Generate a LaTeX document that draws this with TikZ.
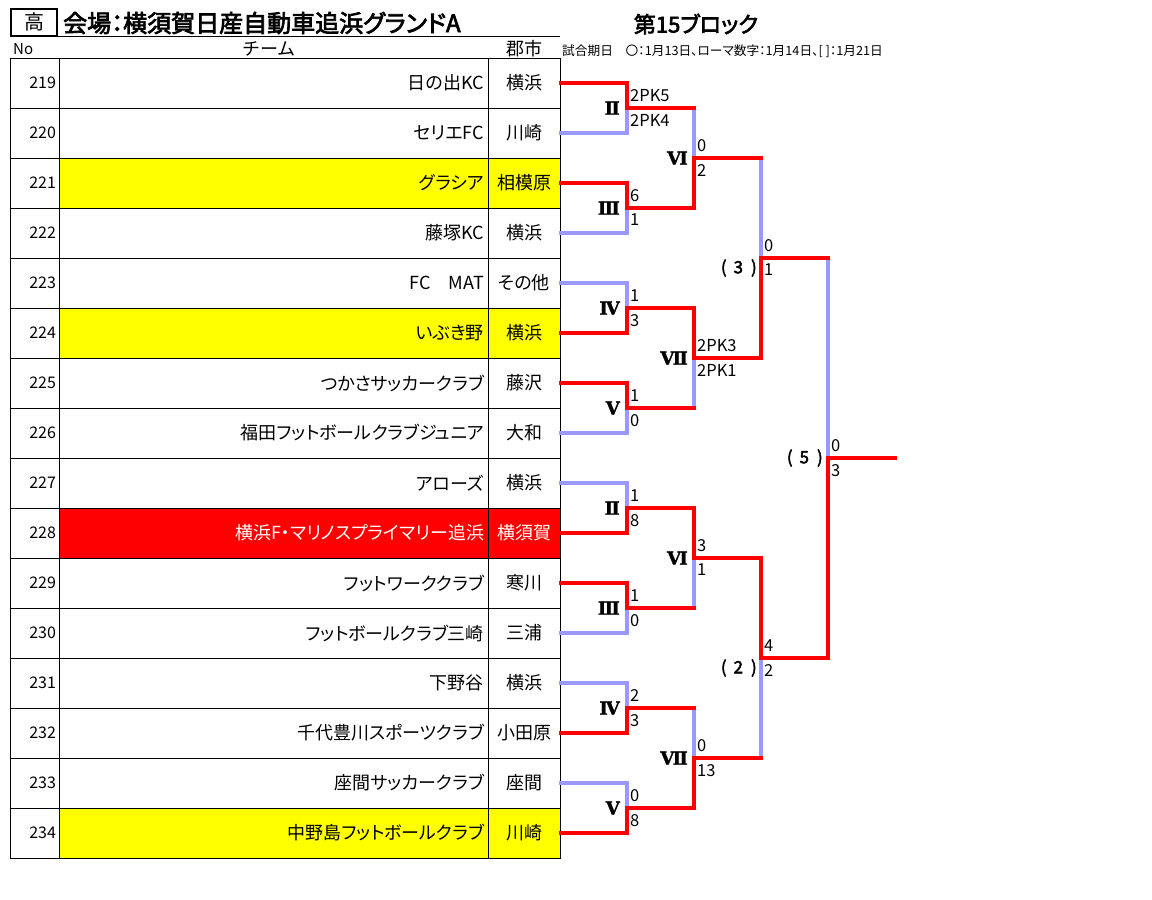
\documentclass[tikz,border=0pt]{standalone}
\usepackage{fontspec}
\setmainfont{Noto Sans CJK JP}[RawFeature=+palt]
\newfontfamily\boldjp{Noto Sans CJK JP}[FakeBold=3,RawFeature=+palt]
\newfontfamily\parenjp{Noto Sans CJK JP}[FakeBold=2.5]
\newfontfamily\plainjp{Noto Sans CJK JP}
\newfontfamily\romanfont{DejaVu Serif}[FakeBold=1.5]
\usetikzlibrary{positioning}
\definecolor{winred}{RGB}{255,0,0}
\definecolor{loseblue}{RGB}{153,153,255}
\definecolor{cellyellow}{RGB}{255,255,0}
\tikzset{
	nocell/.style={draw, line width=1pt, text width=43pt, inner sep=3pt, minimum height=50pt, align=right, font=\fontsize{16}{18}\selectfont},
	teamcell/.style={draw, line width=1pt, text width=421pt, inner sep=4pt, minimum height=50pt, align=right, font=\fontsize{18}{20}\selectfont},
	citycell/.style={draw, line width=1pt, text width=64pt, inner sep=4pt, minimum height=50pt, align=center, font=\fontsize{18}{20}\selectfont},
	win/.style={draw=winred, line width=3.2pt, line cap=rect},
	lose/.style={draw=loseblue, line width=3.2pt, line cap=rect},
	score/.style={inner sep=1pt, font=\fontsize{16.5}{18}\selectfont},
	rnum/.style={inner sep=0pt, font=\romanfont\bfseries\fontsize{18}{20}\selectfont},
	paren/.style={inner sep=0pt, font=\parenjp\fontsize{17}{19}\selectfont},
	hdtext/.style={inner sep=0pt, font=\plainjp\fontsize{18}{20}\selectfont}
}

\begin{document}
\begin{tikzpicture}[x=1pt, y=-1pt]
		\useasboundingbox (0,0) rectangle (1152,900);

		\node[draw, line width=2pt, minimum width=46pt, minimum height=27pt, inner sep=0pt, font=\fontsize{20}{22}\selectfont] (kou) at (34,22) {高};
		\node[anchor=west, inner sep=0pt, font=\boldjp\fontsize{24}{26}\selectfont] (venue) at (63,23) {会場：横須賀日産自動車追浜グランドA};
		\coordinate (hdend) at (560,36);
		\draw[line width=1pt] (kou.south east) -- (kou.south east -| hdend);
		\node[hdtext, anchor=west, font=\plainjp\fontsize{15}{17}\selectfont] (nohd) at (13,49) {No};
		\node[hdtext] (teamhd) at (269,49) {チーム};
		\node[hdtext] (cityhd) at (524,49) {郡市};
		\node[font=\boldjp\fontsize{22}{24}\selectfont] (block) at (696,24) {第15ブロック};
		\node[anchor=west, inner sep=0pt, font=\fontsize{12.7}{14}\selectfont] (dates) at (562,51) {試合期日　〇：1月13日、ローマ数字：1月14日、[ ]：1月21日};

		\node[nocell] (no219) at (34.5,83) {219};
		\node[teamcell] (tm219) at (273.5,83) {日の出KC};
		\node[citycell] (ct219) at (524,83) {横浜};
		\node[nocell] (no220) at (34.5,133) {220};
		\node[teamcell] (tm220) at (273.5,133) {セリエFC};
		\node[citycell] (ct220) at (524,133) {川崎};
		\node[nocell] (no221) at (34.5,183) {221};
		\node[teamcell, fill=cellyellow] (tm221) at (273.5,183) {グラシア};
		\node[citycell, fill=cellyellow] (ct221) at (524,183) {相模原};
		\node[nocell] (no222) at (34.5,233) {222};
		\node[teamcell] (tm222) at (273.5,233) {藤塚KC};
		\node[citycell] (ct222) at (524,233) {横浜};
		\node[nocell] (no223) at (34.5,283) {223};
		\node[teamcell] (tm223) at (273.5,283) {FC　MAT};
		\node[citycell] (ct223) at (524,283) {その他};
		\node[nocell] (no224) at (34.5,333) {224};
		\node[teamcell, fill=cellyellow] (tm224) at (273.5,333) {いぶき野};
		\node[citycell, fill=cellyellow] (ct224) at (524,333) {横浜};
		\node[nocell] (no225) at (34.5,383) {225};
		\node[teamcell] (tm225) at (273.5,383) {つかさサッカークラブ};
		\node[citycell] (ct225) at (524,383) {藤沢};
		\node[nocell] (no226) at (34.5,433) {226};
		\node[teamcell] (tm226) at (273.5,433) {福田フットボールクラブジュニア};
		\node[citycell] (ct226) at (524,433) {大和};
		\node[nocell] (no227) at (34.5,483) {227};
		\node[teamcell] (tm227) at (273.5,483) {アローズ};
		\node[citycell] (ct227) at (524,483) {横浜};
		\node[nocell] (no228) at (34.5,533) {228};
		\node[teamcell, fill=winred, text=white] (tm228) at (273.5,533) {横浜F・マリノスプライマリー追浜};
		\node[citycell, fill=winred, text=white] (ct228) at (524,533) {横須賀};
		\node[nocell] (no229) at (34.5,583) {229};
		\node[teamcell] (tm229) at (273.5,583) {フットワーククラブ};
		\node[citycell] (ct229) at (524,583) {寒川};
		\node[nocell] (no230) at (34.5,633) {230};
		\node[teamcell] (tm230) at (273.5,633) {フットボールクラブ三崎};
		\node[citycell] (ct230) at (524,633) {三浦};
		\node[nocell] (no231) at (34.5,683) {231};
		\node[teamcell] (tm231) at (273.5,683) {下野谷};
		\node[citycell] (ct231) at (524,683) {横浜};
		\node[nocell] (no232) at (34.5,733) {232};
		\node[teamcell] (tm232) at (273.5,733) {千代豊川スポーツクラブ};
		\node[citycell] (ct232) at (524,733) {小田原};
		\node[nocell] (no233) at (34.5,783) {233};
		\node[teamcell] (tm233) at (273.5,783) {座間サッカークラブ};
		\node[citycell] (ct233) at (524,783) {座間};
		\node[nocell] (no234) at (34.5,833) {234};
		\node[teamcell, fill=cellyellow] (tm234) at (273.5,833) {中野島フットボールクラブ};
		\node[citycell, fill=cellyellow] (ct234) at (524,833) {川崎};

		\coordinate (u2) at (627,108);
		\coordinate (u3) at (627,208);
		\coordinate (u4) at (627,308);
		\coordinate (u5) at (627,408);
		\coordinate (u6) at (694,158);
		\coordinate (u7) at (694,358);
		\coordinate (u8) at (761,258);
		\coordinate (l2) at (627,508);
		\coordinate (l3) at (627,608);
		\coordinate (l4) at (627,708);
		\coordinate (l5) at (627,808);
		\coordinate (l6) at (694,558);
		\coordinate (l7) at (694,758);
		\coordinate (l8) at (761,658);
		\coordinate (fin) at (828,458);
		\coordinate (champ) at (895,458);

		\draw[lose] (ct220.east) -| (u2);
		\draw[lose] (ct222.east) -| (u3);
		\draw[lose] (ct223.east) -| (u4);
		\draw[lose] (ct226.east) -| (u5);
		\draw[lose] (u2) -| (u6);
		\draw[lose] (u5) -| (u7);
		\draw[lose] (u6) -| (u8);
		\draw[lose] (u8) -| (fin);
		\draw[lose] (ct227.east) -| (l2);
		\draw[lose] (ct230.east) -| (l3);
		\draw[lose] (ct231.east) -| (l4);
		\draw[lose] (ct233.east) -| (l5);
		\draw[lose] (l3) -| (l6);
		\draw[lose] (l4) -| (l7);
		\draw[lose] (l7) -| (l8);

		\draw[win] (ct219.east) -| (u2);
		\draw[win] (ct221.east) -| (u3);
		\draw[win] (ct224.east) -| (u4);
		\draw[win] (ct225.east) -| (u5);
		\draw[win] (u2) -- (u2 -| u6);
		\draw[win] (u3) -| (u6);
		\draw[win] (u4) -| (u7);
		\draw[win] (u5) -- (u5 -| u7);
		\draw[win] (u6) -- (u6 -| u8);
		\draw[win] (u7) -| (u8);
		\draw[win] (u8) -- (u8 -| fin);
		\draw[win] (ct228.east) -| (l2);
		\draw[win] (ct229.east) -| (l3);
		\draw[win] (ct232.east) -| (l4);
		\draw[win] (ct234.east) -| (l5);
		\draw[win] (l2) -| (l6);
		\draw[win] (l3) -- (l3 -| l6);
		\draw[win] (l4) -- (l4 -| l7);
		\draw[win] (l5) -| (l7);
		\draw[win] (l6) -| (l8);
		\draw[win] (l7) -- (l7 -| l8);
		\draw[win] (l8) -| (fin);
		\draw[win] (fin) -- (champ);

		\node[rnum, left=7pt of u2] (u2n) {Ⅱ};
		\node[rnum, left=7pt of u3] (u3n) {Ⅲ};
		\node[rnum, left=7pt of u4] (u4n) {Ⅳ};
		\node[rnum, left=7pt of u5] (u5n) {Ⅴ};
		\node[rnum, left=6pt of u6] (u6n) {Ⅵ};
		\node[rnum, left=6pt of u7] (u7n) {Ⅶ};
		\node[paren, left=4pt of u8, yshift=-10pt] (u8n) {(\hspace{7pt}3\hspace{8pt})};
		\node[rnum, left=7pt of l2] (l2n) {Ⅱ};
		\node[rnum, left=7pt of l3] (l3n) {Ⅲ};
		\node[rnum, left=7pt of l4] (l4n) {Ⅳ};
		\node[rnum, left=7pt of l5] (l5n) {Ⅴ};
		\node[rnum, left=6pt of l6] (l6n) {Ⅵ};
		\node[rnum, left=6pt of l7] (l7n) {Ⅶ};
		\node[paren, left=4pt of l8, yshift=-10pt] (l8n) {(\hspace{7pt}2\hspace{8pt})};
		\node[paren, left=5pt of fin] (finn) {(\hspace{7pt}5\hspace{8pt})};

		\node[score, above right=5pt and 2pt of u2] (u2a) {2PK5};
		\node[score, below right=5pt and 2pt of u2] (u2b) {2PK4};
		\node[score, above right=5pt and 2pt of u3] (u3a) {6};
		\node[score, below right=5pt and 2pt of u3] (u3b) {1};
		\node[score, above right=5pt and 2pt of u4] (u4a) {1};
		\node[score, below right=5pt and 2pt of u4] (u4b) {3};
		\node[score, above right=5pt and 2pt of u5] (u5a) {1};
		\node[score, below right=5pt and 2pt of u5] (u5b) {0};
		\node[score, above right=5pt and 2pt of u6] (u6a) {0};
		\node[score, below right=5pt and 2pt of u6] (u6b) {2};
		\node[score, above right=5pt and 2pt of u7] (u7a) {2PK3};
		\node[score, below right=5pt and 2pt of u7] (u7b) {2PK1};
		\node[score, above right=5pt and 2pt of u8] (u8a) {0};
		\node[score, below right=5pt and 2pt of u8] (u8b) {1};
		\node[score, above right=5pt and 2pt of l2] (l2a) {1};
		\node[score, below right=5pt and 2pt of l2] (l2b) {8};
		\node[score, above right=5pt and 2pt of l3] (l3a) {1};
		\node[score, below right=5pt and 2pt of l3] (l3b) {0};
		\node[score, above right=5pt and 2pt of l4] (l4a) {2};
		\node[score, below right=5pt and 2pt of l4] (l4b) {3};
		\node[score, above right=5pt and 2pt of l5] (l5a) {0};
		\node[score, below right=5pt and 2pt of l5] (l5b) {8};
		\node[score, above right=5pt and 2pt of l6] (l6a) {3};
		\node[score, below right=5pt and 2pt of l6] (l6b) {1};
		\node[score, above right=5pt and 2pt of l7] (l7a) {0};
		\node[score, below right=5pt and 2pt of l7] (l7b) {13};
		\node[score, above right=5pt and 2pt of l8] (l8a) {4};
		\node[score, below right=5pt and 2pt of l8] (l8b) {2};
		\node[score, above right=5pt and 2pt of fin] (fina) {0};
		\node[score, below right=5pt and 2pt of fin] (finb) {3};
	\end{tikzpicture}
\end{document}
